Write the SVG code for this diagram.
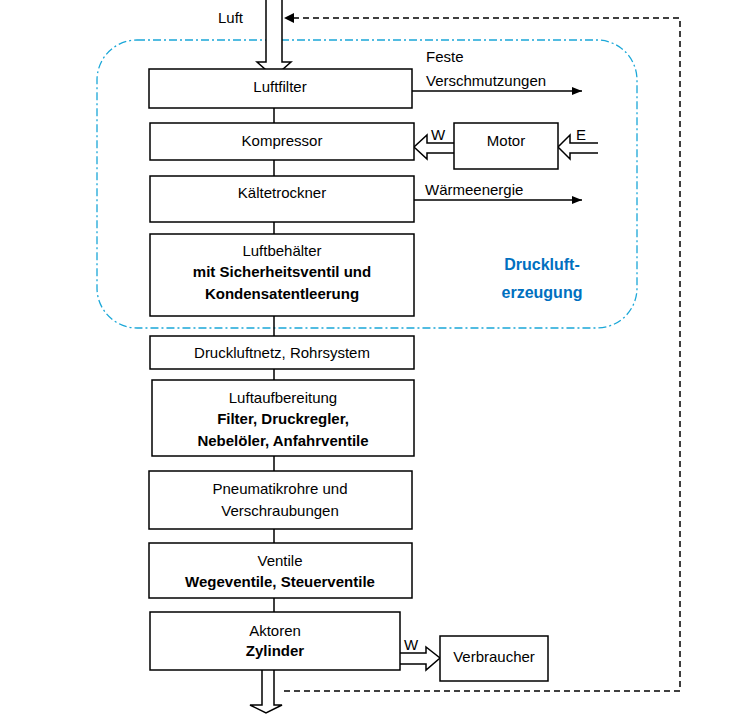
<svg xmlns="http://www.w3.org/2000/svg" width="749" height="726" viewBox="0 0 749 726">
<style>
.b{fill:#fff;stroke:#000;stroke-width:1.5}
text{font-family:"Liberation Sans",Arial,sans-serif;font-size:15px;fill:#000}
.c{text-anchor:middle}
.bold{font-weight:bold}
.ha{fill:#fff;stroke:#000;stroke-width:1.5}
</style>
<defs>
<marker id="ar" markerWidth="10" markerHeight="8" refX="10" refY="4" orient="auto" markerUnits="userSpaceOnUse"><path d="M0,0L10,4L0,8z" fill="#000"/></marker>
</defs>
<rect x="97" y="40" width="540" height="288" rx="40" fill="none" stroke="#1aa7d8" stroke-width="1.3" stroke-dasharray="8,3,2,3"/>
<g id="connectors" fill="none" stroke="#000" stroke-width="1.5">
<path d="M274,108V123M274,160V176M274,222V234M274,316V336M274,369V380M274,456V471M274,529V543M274,598V612"/>
<path d="M412,91H582" marker-end="url(#ar)"/>
<path d="M414,200H582" marker-end="url(#ar)"/>
<path d="M284,691H680V18H294" stroke-dasharray="6,4"/>
<path d="M294,18" />
<path d="M284,18l10,-5v10z" fill="#000" stroke="none"/>
<path class="ha" d="M266,0V62H257L274,77L291,62H282V0"/>
<path class="ha" d="M262,670V705H250L266,713L282,705H274V670"/>
<path class="ha" d="M454,143H427V135L414,147L427,159V153H454"/>
<path class="ha" d="M598,143H570V135L558,147L570,159V153H598"/>
<path class="ha" d="M400,653H426V647L440,658L426,670V664H400"/>
</g>
<g id="luft"><text x="218" y="23">Luft</text></g>
<g id="luftfilter"><rect class="b" x="149" y="69" width="263" height="39"/><text class="c" x="280" y="92">Luftfilter</text></g>
<g id="feste"><text x="426" y="62">Feste</text><text x="426" y="86">Verschmutzungen</text></g>
<g id="kompressor"><rect class="b" x="150" y="123" width="264" height="37"/><text class="c" x="282" y="146">Kompressor</text></g>
<g id="motor"><rect class="b" x="454" y="123" width="104" height="46"/><text class="c" x="506" y="146">Motor</text><text x="431" y="140">W</text><text x="576" y="140">E</text></g>
<g id="kaelte"><rect class="b" x="150" y="176" width="264" height="46"/><text class="c" x="282" y="198">Kältetrockner</text><text x="425" y="195">Wärmeenergie</text></g>
<g id="behaelter"><rect class="b" x="150" y="234" width="264" height="82"/><text class="c" x="282" y="256">Luftbehälter</text><text class="c bold" x="282" y="277">mit Sicherheitsventil und</text><text class="c bold" x="282" y="299">Kondensatentleerung</text></g>
<g id="erzeugung"><text class="c bold" x="542" y="270" style="fill:#0070c0;font-size:16px">Druckluft-</text><text class="c bold" x="542" y="298" style="fill:#0070c0;font-size:16px">erzeugung</text></g>
<g id="netz"><rect class="b" x="150" y="336" width="264" height="33"/><text class="c" x="282" y="358">Druckluftnetz, Rohrsystem</text></g>
<g id="aufbereitung"><rect class="b" x="152" y="380" width="262" height="76"/><text class="c" x="283" y="403">Luftaufbereitung</text><text class="c bold" x="283" y="424">Filter, Druckregler,</text><text class="c bold" x="283" y="446">Nebelöler, Anfahrventile</text></g>
<g id="pneumatik"><rect class="b" x="149" y="471" width="263" height="58"/><text class="c" x="280" y="494">Pneumatikrohre und</text><text class="c" x="280" y="516">Verschraubungen</text></g>
<g id="ventile"><rect class="b" x="149" y="543" width="263" height="55"/><text class="c" x="280" y="566">Ventile</text><text class="c bold" x="280" y="587">Wegeventile, Steuerventile</text></g>
<g id="aktoren"><rect class="b" x="150" y="612" width="250" height="58"/><text class="c" x="275" y="636">Aktoren</text><text class="c bold" x="275" y="656">Zylinder</text><text x="404" y="650">W</text></g>
<g id="verbraucher"><rect class="b" x="440" y="636" width="108" height="45"/><text class="c" x="494" y="662">Verbraucher</text></g>
</svg>
